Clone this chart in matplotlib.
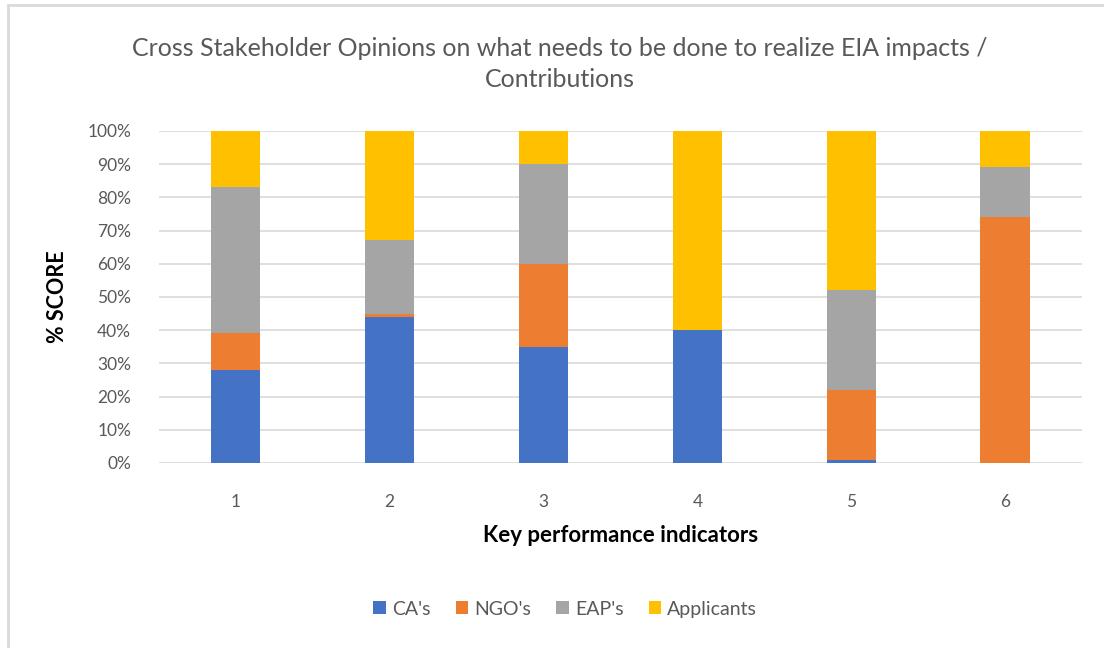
import numpy as np
import matplotlib.pyplot as plt
from matplotlib.patches import Rectangle

plt.rcParams['font.family'] = ['Lato', 'DejaVu Sans']

# share of each stakeholder group per key performance indicator (%)
kpis = ['1', '2', '3', '4', '5', '6']
cas = [28, 44, 35, 40, 1, 0]
ngos = [11, 1, 25, 0, 21, 74]
eaps = [44, 22, 30, 0, 30, 15]
applicants = [17, 33, 10, 60, 48, 11]

series = [("CA's", cas, '#4472c4'),
          ("NGO's", ngos, '#ed7d31'),
          ("EAP's", eaps, '#a5a5a5'),
          ('Applicants', applicants, '#ffc000')]

fig = plt.figure(figsize=(11.04, 6.48), dpi=100)
ax = fig.add_axes([0.144, 0.2855, 0.836, 0.5125])

# chart area outline
fig.patches.append(Rectangle((8 / 1104, -0.05), 1.1, 1 - 5 / 648 + 0.05,
                             transform=fig.transFigure, fill=False,
                             edgecolor='#d9d9d9', linewidth=2))

x = np.arange(len(kpis))
bottom = np.zeros(len(kpis))
for name, vals, col in series:
    vals = np.array(vals, dtype=float)
    ax.bar(x, vals, 0.32, bottom=bottom, color=col, label=name, zorder=3)
    bottom += vals

ax.set_xlim(-0.5, len(kpis) - 0.5)
ax.set_ylim(0, 100)
ax.set_yticks(np.arange(0, 101, 10))
ax.set_yticklabels([f'{v}%' for v in range(0, 101, 10)])
ax.set_xticks(x)
ax.set_xticklabels(kpis)
ax.tick_params(length=0, labelsize=12.5, labelcolor='#595959')
ax.tick_params(axis='y', pad=20)
ax.tick_params(axis='x', pad=22)
ax.grid(axis='y', color='#d9d9d9', linewidth=1.2, zorder=0)
for s in ax.spines.values():
    s.set_visible(False)

ax.set_ylabel('% SCORE', fontsize=15.5, fontweight='bold', labelpad=14)
ax.set_xlabel('Key performance indicators', fontsize=16,
              fontweight='bold', labelpad=11)

fig.text(0.507, 0.901,
         'Cross Stakeholder Opinions on what needs to be done to realize EIA impacts /\nContributions',
         ha='center', va='center', fontsize=18, color='#595959',
         linespacing=1.4)

fig.legend(loc='center', bbox_to_anchor=(0.512, 0.06), ncol=4,
           frameon=False, fontsize=14, handlelength=0.65, handleheight=0.65,
           handletextpad=0.3, columnspacing=1.3, labelcolor='#595959')

fig.savefig('out.png', dpi=100, facecolor='white')
